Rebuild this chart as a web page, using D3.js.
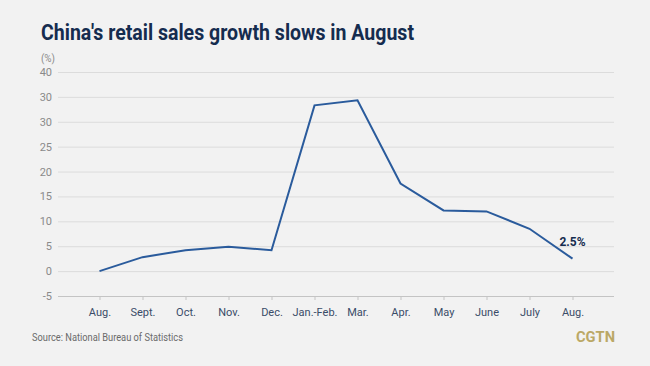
<!DOCTYPE html>
<html>
<head>
<meta charset="utf-8">
<script src="https://cdn.jsdelivr.net/npm/d3@7/dist/d3.min.js"></script>
<style>
html,body{margin:0;padding:0;background:#f2f2f2;}
svg{display:block;}
text{font-family:Roboto, "Noto Sans", sans-serif;}
</style>
</head>
<body>
<svg id="chart" width="650" height="366"></svg>
<script>
const categories = ["Aug.","Sept.","Oct.","Nov.","Dec.","Jan.-Feb.","Mar.","Apr.","May","June","July","Aug."];
const values = [0.0, 2.8, 4.2, 4.9, 4.2, 33.3, 34.3, 17.6, 12.2, 12.0, 8.5, 2.5];
const yTickValues = [-5, 0, 5, 10, 15, 20, 25, 30, 35, 40];
const yTickLabels = ["-5","0","5","10","15","20","25","30","30","40"];
const title = "China's retail sales growth slows in August";
const source = "Source: National Bureau of Statistics";
const lastLabel = "2.5%";

const svg = d3.select("#chart");
svg.append("rect").attr("width",650).attr("height",366).attr("fill","#f2f2f2");

const mLeft = 58, mRight = 614, mTop = 72, mBottom = 296;
const x = d3.scalePoint().domain(d3.range(categories.length)).range([mLeft, mRight]).padding(0.965);
const y = d3.scaleLinear().domain([-5, 40]).range([mBottom, mTop]);

// title
svg.append("text").attr("x",41).attr("y",40)
  .attr("font-size",22).attr("font-weight",700).attr("fill","#152c4f")
  .attr("textLength",373).attr("lengthAdjust","spacingAndGlyphs")
  .text(title);

// unit
svg.append("text").attr("x",41).attr("y",62).attr("font-size",10).attr("fill","#8a8a8a")
  .attr("textLength",14).attr("lengthAdjust","spacingAndGlyphs").text("(%)");

// grid
const yAxis = d3.axisLeft(y).tickValues(yTickValues).tickSize(-(mRight-mLeft))
  .tickFormat((d,i)=>yTickLabels[i]).tickPadding(6);
const gy = svg.append("g").attr("transform",`translate(${mLeft},0)`).call(yAxis);
gy.select(".domain").remove();
gy.selectAll(".tick line").attr("stroke","#dcdcdc").attr("stroke-width",1);
gy.selectAll(".tick text").attr("fill","#8a8a8a").attr("font-size",11).attr("x",-6)
  .attr("font-family","Roboto, sans-serif");
gy.selectAll(".tick").filter(d=>d===-5).select("line").attr("stroke","#c4c4c4");

// x axis
const xAxis = d3.axisBottom(x).tickFormat(i=>categories[i]).tickSize(4).tickPadding(6);
const gx = svg.append("g").attr("transform",`translate(0,${mBottom})`).call(xAxis);
gx.select(".domain").remove();
gx.selectAll(".tick line").attr("stroke","#c4c4c4");
gx.selectAll(".tick text").attr("fill","#3a4c68").attr("font-size",11)
  .attr("font-family","Roboto, sans-serif").attr("dy","0.95em");

// line
const line = d3.line().x((d,i)=>x(i)).y(d=>y(d));
svg.append("path").datum(values).attr("d",line).attr("fill","none")
  .attr("stroke","#2a5b9c").attr("stroke-width",2).attr("stroke-linejoin","miter");

// last label
const li = values.length-1;
svg.append("text").attr("x",x(li)).attr("y",y(values[li])-13)
  .attr("text-anchor","middle").attr("font-size",12).attr("font-weight",700)
  .attr("fill","#152c4f").text(lastLabel);

// source
svg.append("text").attr("x",32).attr("y",341).attr("font-size",10.5).attr("fill","#6a6a6a")
  .attr("textLength",151).attr("lengthAdjust","spacingAndGlyphs").text(source);

// logo
svg.append("text").attr("x",615).attr("y",342).attr("text-anchor","end")
  .attr("font-size",14).attr("font-weight",700).attr("fill","#bba866")
  .attr("textLength",39).attr("lengthAdjust","spacingAndGlyphs").text("CGTN");
</script>
</body>
</html>
